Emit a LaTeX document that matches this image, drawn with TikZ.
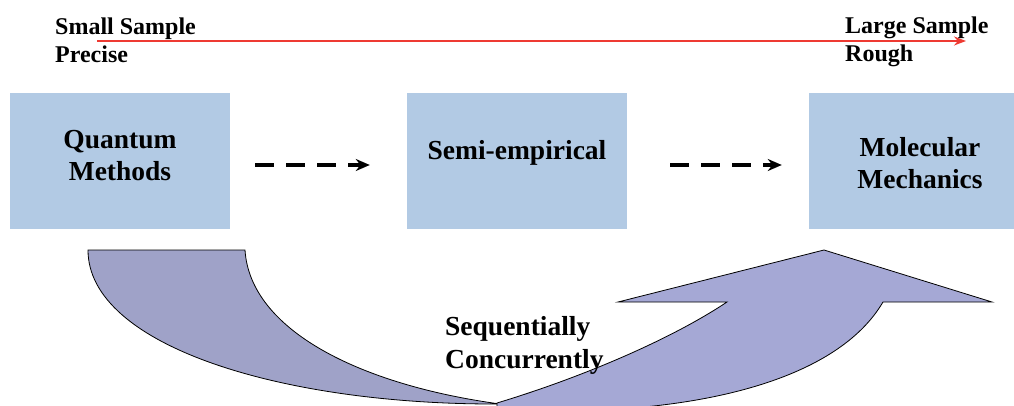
\documentclass[tikz,border=0pt]{standalone}
\usepackage{fontspec}
\setmainfont{Liberation Serif}
\usetikzlibrary{arrows.meta}
\definecolor{boxblue}{RGB}{178,202,228}
\definecolor{bandleft}{RGB}{159,162,200}
\definecolor{bandright}{RGB}{165,168,213}
\definecolor{scalered}{RGB}{238,58,50}
\newcommand{\boxfont}{\fontsize{27.5}{32}\selectfont\bfseries}
\newcommand{\capfont}{\fontsize{24}{28}\selectfont\bfseries}
\newcommand{\notefont}{\fontsize{27.5}{33}\selectfont\bfseries}
\begin{document}
\begin{tikzpicture}[x=1pt,y=-1pt,
    method/.style={fill=boxblue,minimum width=220pt,minimum height=136pt,inner sep=0pt},
    methodtext/.style={font=\boxfont,align=center,inner sep=0pt},
    corner/.style={font=\capfont,align=left,inner sep=0pt,anchor=north west},
    band/.style={draw=black,line width=0.8pt},
    next/.style={-{Stealth[length=14pt,width=12pt]},line width=4pt,
      dash pattern=on 19pt off 12pt}]
  \useasboundingbox (0,0) rectangle (1014,406);
  % sample size scale
  \coordinate (small) at (97,41);
  \coordinate (large) at (966,41);
  \draw[scalered,line width=1.5pt,-{Stealth[length=12pt,width=9pt]}] (small) -- (large);
  \node[corner] (precise) at (55,17.5) {Small Sample\\Precise};
  \node[corner] (rough) at (845,16.5) {Large Sample\\Rough};
  % methods
  \node[method] (qm) at (120,161) {};
  \node[method] (se) at (517,161) {};
  \node[method] (mm) at (919,161) {};
  \node[methodtext] (qmtext) at (120,156) {Quantum\\Methods};
  \node[methodtext] (setext) at (517,153) {Semi-empirical};
  \node[methodtext] (mmtext) at (920,163) {Molecular\\Mechanics};
  \begin{scope}[next]
    \draw[shorten <=25pt,shorten >=37pt] ([yshift=-4pt]qm.east) -- ([yshift=-4pt]se.west);
    \draw[shorten <=43pt,shorten >=27pt] ([yshift=-4pt]se.east) -- ([yshift=-4pt]mm.west);
  \end{scope}
  % curved band
  \filldraw[band,fill=bandleft] (88,250) -- (245,250)
    .. controls (250,330) and (360,385) .. (500,404)
    .. controls (280,405) and (88,345) .. (88,250) -- cycle;
  \filldraw[band,fill=bandright] (497,403)
    .. controls (580,378) and (670,340) .. (727,302)
    -- (618,302) -- (824,250) -- (992,302) -- (883,302)
    .. controls (840,375) and (720,405) .. (600,410)
    -- (497,410) -- cycle;
  \node[font=\notefont,align=left,inner sep=0pt,anchor=north west] (ways) at (445,316)
    {Sequentially\\Concurrently};
\end{tikzpicture}
\end{document}
